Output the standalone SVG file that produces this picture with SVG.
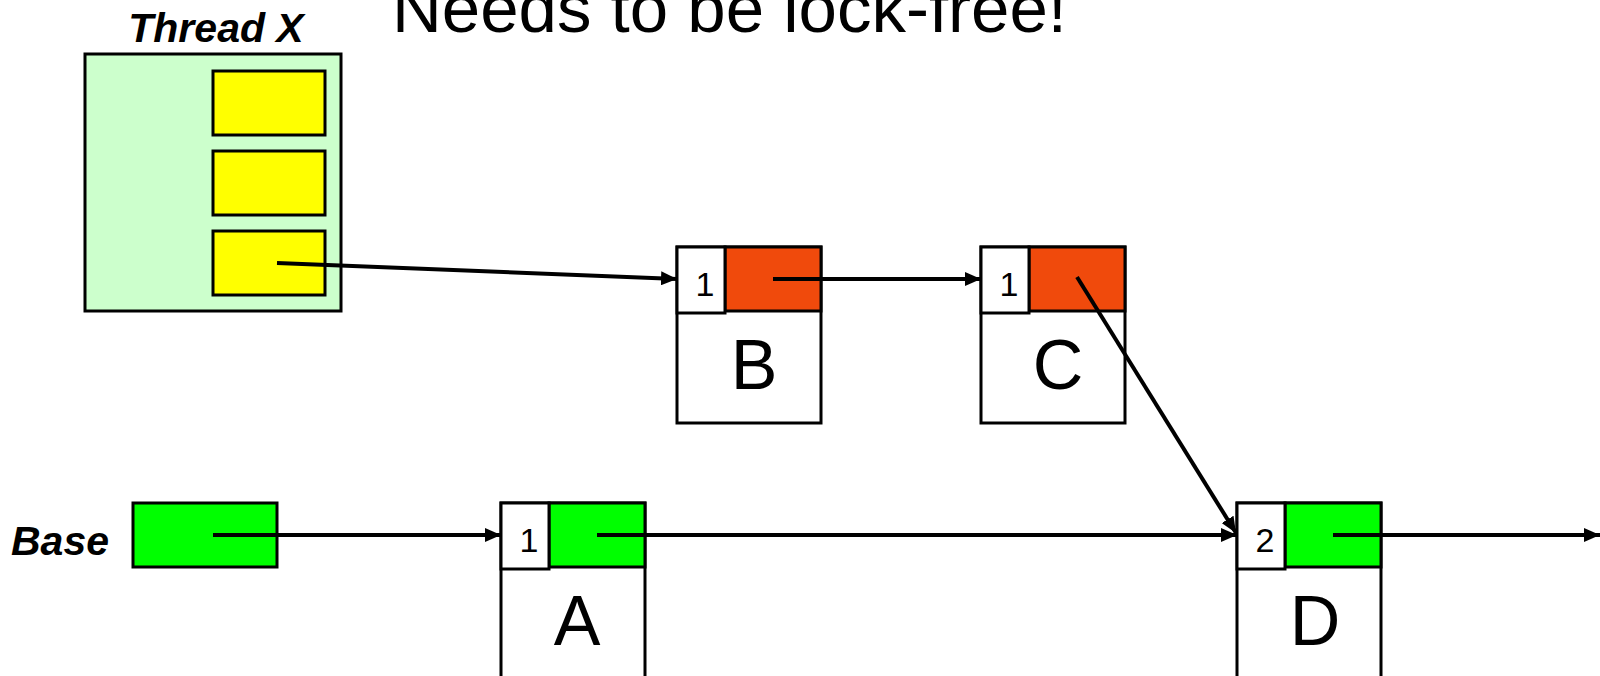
<svg xmlns="http://www.w3.org/2000/svg" width="1600" height="676" viewBox="0 0 1600 676">
<defs>
<style>
.box{fill:#fff;stroke:#000;stroke-width:3}
.cell{fill:#fff;stroke:#000;stroke-width:3}
.red{fill:#F04A0C;stroke:#000;stroke-width:3}
.grn{fill:#00FF00;stroke:#000;stroke-width:3}
.yel{fill:#FFFF00;stroke:#000;stroke-width:3}
.thr{fill:#CCFFCC;stroke:#000;stroke-width:3}
.num{font-family:"Liberation Sans",Arial,sans-serif;font-size:34px;text-anchor:middle;fill:#000}
.let{font-family:"Liberation Sans",Arial,sans-serif;font-size:70px;text-anchor:middle;fill:#000}
.lbl{font-family:"Liberation Sans",Arial,sans-serif;font-size:41px;font-weight:bold;font-style:italic;fill:#000}
.ttl{font-family:"Liberation Sans",Arial,sans-serif;font-size:69px;fill:#000}
.arr{stroke:#000;stroke-width:4;fill:none;marker-end:url(#ah)}
</style>
<marker id="ah" markerUnits="userSpaceOnUse" markerWidth="16" markerHeight="14" refX="16" refY="7" orient="auto" viewBox="0 0 16 14">
<path d="M0,0 L16,7 L0,14 z" fill="#000"/>
</marker>
</defs>
<rect width="1600" height="676" fill="#fff"/>
<text class="ttl" x="392" y="32">Needs to be lock-free!</text>

<g id="threadX">
<text class="lbl" x="216" y="42" text-anchor="middle" font-size="40">Thread X</text>
<rect class="thr" x="85" y="54" width="256" height="257"/>
<rect class="yel" x="213" y="71" width="112" height="64"/>
<rect class="yel" x="213" y="151" width="112" height="64"/>
<rect class="yel" x="213" y="231" width="112" height="64"/>
</g>

<g id="base">
<text class="lbl" x="11" y="555" font-size="42">Base</text>
<rect class="grn" x="133" y="503" width="144" height="64"/>
</g>

<g id="nodeB">
<rect class="box" x="677" y="247" width="144" height="176"/>
<rect class="red" x="725" y="247" width="96" height="64"/>
<rect class="cell" x="677" y="247" width="48" height="66"/>
<text class="num" x="705" y="296">1</text>
<text class="let" x="754" y="389">B</text>
</g>

<g id="nodeC">
<rect class="box" x="981" y="247" width="144" height="176"/>
<rect class="red" x="1029" y="247" width="96" height="64"/>
<rect class="cell" x="981" y="247" width="48" height="66"/>
<text class="num" x="1009" y="296">1</text>
<text class="let" x="1058" y="389">C</text>
</g>

<g id="nodeA">
<rect class="box" x="501" y="503" width="144" height="176"/>
<rect class="grn" x="549" y="503" width="96" height="64"/>
<rect class="cell" x="501" y="503" width="48" height="66"/>
<text class="num" x="529" y="552">1</text>
<text class="let" x="577" y="645">A</text>
</g>

<g id="nodeD">
<rect class="box" x="1237" y="503" width="144" height="176"/>
<rect class="grn" x="1285" y="503" width="96" height="64"/>
<rect class="cell" x="1237" y="503" width="48" height="66"/>
<text class="num" x="1265" y="552">2</text>
<text class="let" x="1315" y="645">D</text>
</g>

<g id="connectors">
<line class="arr" x1="277" y1="263" x2="677" y2="279"/>
<line class="arr" x1="773" y1="279" x2="981" y2="279"/>
<line class="arr" x1="1077" y1="277" x2="1236" y2="533"/>
<line class="arr" x1="213" y1="535" x2="501" y2="535"/>
<line class="arr" x1="597" y1="535" x2="1237" y2="535"/>
<line class="arr" x1="1333" y1="535" x2="1600" y2="535"/>
</g>
</svg>
